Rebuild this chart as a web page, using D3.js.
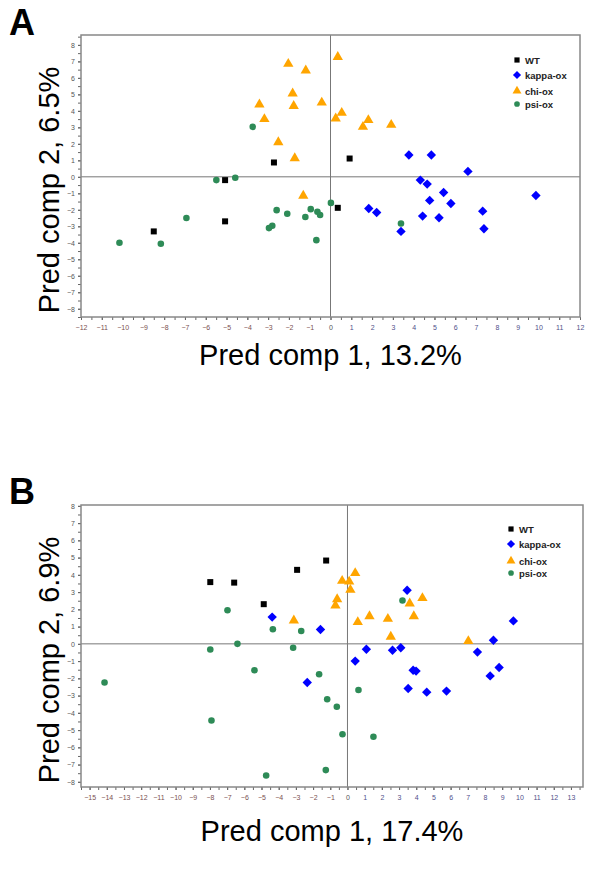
<!DOCTYPE html>
<html><head><meta charset="utf-8">
<script src="https://cdn.jsdelivr.net/npm/d3@7"></script>
<style>body{margin:0;background:#fff}svg{display:block}</style>
</head><body>
<svg id="c" width="600" height="885"></svg>
<script>
// ---------- Data (panel A) ----------
const seriesNames = ["WT", "kappa-ox", "chi-ox", "psi-ox"];
const A_WT = [[-2.72,0.87],[-5.07,-0.2],[0.92,1.11],[0.35,-1.88],[-5.07,-2.7],[-8.5,-3.31]];
const A_kappa = [[3.77,1.32],[4.85,1.32],[6.61,0.33],[4.32,-0.2],[4.65,-0.44],[5.44,-0.95],[4.77,-1.43],[5.79,-1.62],[9.88,-1.13],[1.84,-1.92],[2.22,-2.16],[4.43,-2.38],[5.22,-2.48],[7.32,-2.08],[7.38,-3.15],[3.39,-3.31]];
const A_chi = [[-2.03,6.85],[-1.19,6.45],[0.35,7.27],[-1.82,5.05],[-3.42,4.39],[-1.77,4.3],[-0.42,4.5],[0.25,3.54],[-3.18,3.5],[-2.51,2.1],[-1.72,1.13],[0.54,3.88],[1.82,3.44],[1.56,3.03],[2.92,3.15],[-1.31,-1.15]];
const A_psi = [[-3.74,3.03],[-5.49,-0.2],[-4.58,-0.06],[0.02,-1.58],[-2.59,-2.02],[-2.08,-2.24],[-0.95,-1.96],[-1.21,-2.44],[-0.63,-2.12],[-0.5,-2.32],[-6.93,-2.5],[-2.8,-2.97],[-2.96,-3.11],[-10.15,-4.0],[-8.16,-4.06],[-0.68,-3.84],[3.39,-2.83]];
// ---------- Data (panel B) ----------
const B_WT = [[-7.98,3.58],[-6.59,3.55],[-2.93,4.29],[-1.24,4.83],[-4.87,2.3]];
const B_kappa = [[-4.38,1.55],[-1.57,0.83],[3.47,3.11],[9.65,1.33],[8.49,0.21],[7.56,-0.48],[1.1,-0.31],[2.62,-0.37],[3.1,-0.23],[0.45,-1.0],[8.82,-1.37],[8.3,-1.86],[3.82,-1.53],[3.99,-1.58],[3.53,-2.59],[4.61,-2.8],[5.76,-2.74],[-2.34,-2.24]];
const B_chi = [[-3.12,1.35],[-0.31,3.65],[-0.6,2.59],[-0.7,2.22],[0.1,3.61],[0.45,4.1],[0.17,3.13],[0.6,1.26],[1.28,1.6],[2.35,1.45],[2.52,0.41],[3.62,2.34],[4.36,2.65],[3.86,1.6],[7.03,0.16]];
const B_psi = [[-6.98,1.95],[-4.34,0.85],[-2.69,0.74],[-7.98,-0.33],[-6.4,0.0],[-3.16,-0.23],[3.2,2.51],[-5.41,-1.53],[-1.65,-1.76],[-14.13,-2.24],[-1.18,-3.21],[-0.62,-3.65],[-7.91,-4.44],[-0.29,-5.24],[-4.73,-7.63],[-1.26,-7.32],[0.64,-2.68],[1.51,-5.39]];
// ---------- Axis / label text ----------
const A_xTicks = d3.range(-12, 13);
const A_yTicks = d3.range(-8, 9);
const B_xTicks = d3.range(-15, 14);
const B_yTicks = d3.range(-8, 9);
const A_xTitle = "Pred comp 1, 13.2%", A_yTitle = "Pred comp 2, 6.5%";
const B_xTitle = "Pred comp 1, 17.4%", B_yTitle = "Pred comp 2, 6.9%";

const colors = {"WT":"#000000","kappa-ox":"#0000ff","chi-ox":"#ffa500","psi-ox":"#2e8b57"};
const shapes = {"WT":d3.symbolSquare,"kappa-ox":d3.symbolDiamond,"chi-ox":d3.symbolTriangle,"psi-ox":d3.symbolCircle};
const sizes = {"WT":36,"kappa-ox":44,"chi-ox":46,"psi-ox":34};
const diamond2 = {draw(ctx, size){const r=Math.sqrt(size/2);ctx.moveTo(0,-r);ctx.lineTo(r,0);ctx.lineTo(0,r);ctx.lineTo(-r,0);ctx.closePath();}};
shapes["kappa-ox"] = diamond2;
const FONT = "Liberation Sans, Arial, sans-serif";

const svg = d3.select("#c");
svg.append("rect").attr("width",600).attr("height",885).attr("fill","#fff");

function panel(cfg){
  const g = svg.append("g");
  const x = d3.scaleLinear().domain(cfg.xd).range([cfg.l, cfg.r]);
  const y = d3.scaleLinear().domain(cfg.yd).range([cfg.b, cfg.t]);
  const xMinor = d3.range(Math.ceil(cfg.xd[0]*2)/2, cfg.xd[1]+0.001, 0.5);
  const yMinor = d3.range(Math.ceil(cfg.yd[0]*2)/2, cfg.yd[1]+0.001, 0.5);
  g.append("g").attr("transform",`translate(0,${cfg.b})`)
    .call(d3.axisBottom(x).tickValues(xMinor).tickSize(3).tickFormat(""))
    .call(a=>{a.select(".domain").remove();a.selectAll("line").attr("stroke","#666");});
  g.append("g").attr("transform",`translate(${cfg.l},0)`)
    .call(d3.axisLeft(y).tickValues(yMinor).tickSize(3).tickFormat(""))
    .call(a=>{a.select(".domain").remove();a.selectAll("line").attr("stroke","#666");});
  g.append("g").attr("transform",`translate(0,${cfg.b})`)
    .call(d3.axisBottom(x).tickValues(cfg.xt).tickSize(3).tickPadding(5).tickFormat(d3.format("d")))
    .call(a=>{a.select(".domain").remove();a.selectAll("line").attr("stroke","#666");
      a.selectAll("text").attr("font-size",7).attr("font-family",FONT)
       .attr("fill",d=>d<0?"#7a5050":(d>0?"#50508a":"#555"));});
  g.append("g").attr("transform",`translate(${cfg.l},0)`)
    .call(d3.axisLeft(y).tickValues(cfg.yt).tickSize(3).tickPadding(3).tickFormat(d3.format("d")))
    .call(a=>{a.select(".domain").remove();a.selectAll("line").attr("stroke","#666");
      a.selectAll("text").attr("font-size",7).attr("font-family",FONT).attr("fill","#555");});
  g.append("line").attr("x1",cfg.l).attr("x2",cfg.r).attr("y1",y(0)).attr("y2",y(0)).attr("stroke","#777").attr("stroke-width",1);
  g.append("line").attr("x1",x(0)).attr("x2",x(0)).attr("y1",cfg.t).attr("y2",cfg.b).attr("stroke","#777").attr("stroke-width",1);
  g.append("rect").attr("x",cfg.l).attr("y",cfg.t).attr("width",cfg.r-cfg.l).attr("height",cfg.b-cfg.t)
    .attr("fill","none").attr("stroke","#888").attr("stroke-width",1.5);
  const order = ["WT","kappa-ox","psi-ox","chi-ox"];
  order.forEach(name=>{
    const data = cfg.series[name];
    g.append("g").selectAll("path").data(data).join("path")
      .attr("transform",d=>`translate(${x(d[0])},${y(d[1])})`)
      .attr("d",d3.symbol().type(shapes[name]).size(sizes[name]))
      .attr("fill",colors[name]);
  });
  seriesNames.forEach((name,i)=>{
    const ly = cfg.legY[i];
    g.append("path").attr("transform",`translate(${cfg.legX},${ly})`)
      .attr("d",d3.symbol().type(shapes[name]).size(sizes[name]*0.75)).attr("fill",colors[name]);
    g.append("text").attr("x",cfg.legX+8).attr("y",ly+3.5).text(name)
      .attr("font-size",9.5).attr("font-weight","bold").attr("fill","#222")
      .attr("font-family",FONT);
  });
  g.append("text").attr("x",(cfg.l+cfg.r)/2).attr("y",cfg.xTitleY).attr("text-anchor","middle")
    .attr("font-size",29).attr("font-family",FONT).text(cfg.xTitle);
  g.append("text").attr("transform",`translate(${cfg.yTitleX},${(cfg.t+cfg.b)/2+14}) rotate(-90)`).attr("text-anchor","middle")
    .attr("font-size",29).attr("font-family",FONT).text(cfg.yTitle);
  g.append("text").attr("x",9).attr("y",cfg.letterY).text(cfg.letter)
    .attr("font-size",36).attr("font-weight","bold").attr("font-family",FONT);
}

panel({xd:[-12,12], yd:[-8.5,8.6], l:81, r:580, t:35, b:317,
  xt:A_xTicks, yt:A_yTicks,
  series:{"WT":A_WT,"kappa-ox":A_kappa,"chi-ox":A_chi,"psi-ox":A_psi},
  legX:517, legY:[60,75,91,104], xTitle:A_xTitle, yTitle:A_yTitle,
  xTitleY:365, yTitleX:59, letter:"A", letterY:35});

panel({xd:[-15.5,13.7], yd:[-8.3,8.05], l:81, r:583, t:505, b:787,
  xt:B_xTicks, yt:B_yTicks,
  series:{"WT":B_WT,"kappa-ox":B_kappa,"chi-ox":B_chi,"psi-ox":B_psi},
  legX:511, legY:[529,544,561,573], xTitle:B_xTitle, yTitle:B_yTitle,
  xTitleY:841, yTitleX:59, letter:"B", letterY:504});
</script>
</body></html>
